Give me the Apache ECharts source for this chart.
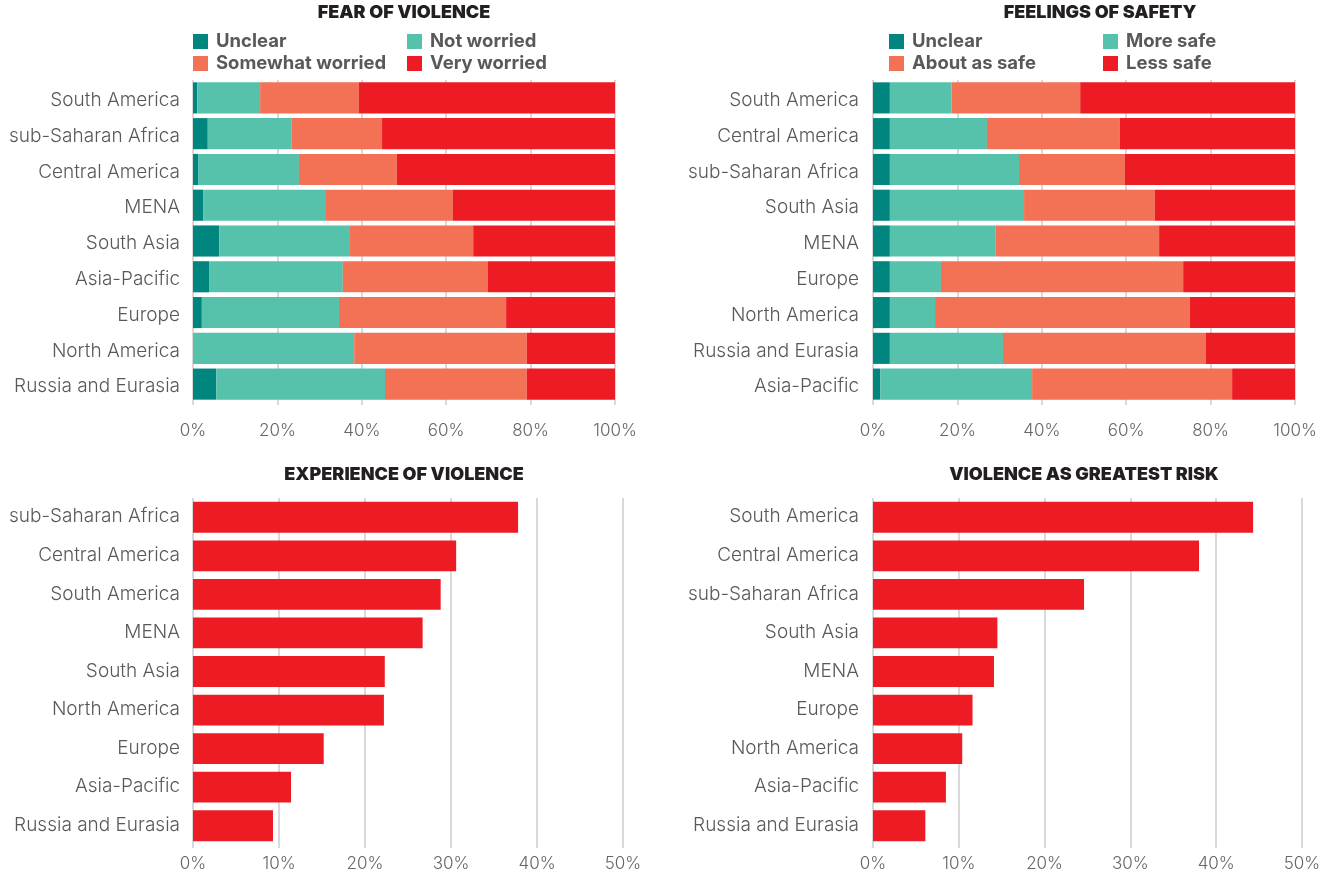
<!DOCTYPE html>
<html>
<head>
<meta charset="utf-8">
<script src="https://cdn.jsdelivr.net/npm/echarts@6/dist/echarts.min.js"></script>
<style>
  html, body { margin: 0; padding: 0; background: #fff; }
  #chart { width: 1320px; height: 877px; }
</style>
</head>
<body>
<div id="chart"></div>
<script>
// fear of violence (% of respondents)
const fearCats = ['South America', 'sub-Saharan Africa', 'Central America', 'MENA', 'South Asia', 'Asia-Pacific', 'Europe', 'North America', 'Russia and Eurasia'];
const fearUnclear = [1.0, 3.5, 1.2, 2.4, 6.2, 3.8, 2.1, 0, 5.5];
const fearNotWorried = [14.9, 19.9, 23.9, 28.9, 30.8, 31.7, 32.5, 38.2, 40.0];
const fearSomewhat = [23.4, 21.4, 23.2, 30.3, 29.4, 34.4, 39.6, 40.9, 33.6];
const fearVery = [60.7, 55.2, 51.7, 38.4, 33.6, 30.1, 25.8, 20.9, 20.9];

// feelings of safety
const safetyCats = ['South America', 'Central America', 'sub-Saharan Africa', 'South Asia', 'MENA', 'Europe', 'North America', 'Russia and Eurasia', 'Asia-Pacific'];
const safetyUnclear = [4.0, 4.0, 4.0, 4.0, 4.0, 4.0, 4.0, 4.0, 1.7];
const safetyMore = [14.6, 23.0, 30.6, 31.8, 25.1, 12.1, 10.7, 26.8, 36.0];
const safetyAbout = [30.5, 31.5, 25.1, 31.0, 38.7, 57.4, 60.4, 48.1, 47.4];
const safetyLess = [50.9, 41.5, 40.3, 33.2, 32.2, 26.5, 24.9, 21.1, 14.9];

// experience of violence
const expCats = ['sub-Saharan Africa', 'Central America', 'South America', 'MENA', 'South Asia', 'North America', 'Europe', 'Asia-Pacific', 'Russia and Eurasia'];
const expValues = [37.8, 30.6, 28.8, 26.7, 22.3, 22.2, 15.2, 11.4, 9.3];

// violence as greatest risk
const riskCats = ['South America', 'Central America', 'sub-Saharan Africa', 'South Asia', 'MENA', 'Europe', 'North America', 'Asia-Pacific', 'Russia and Eurasia'];
const riskValues = [44.3, 38.0, 24.6, 14.5, 14.1, 11.6, 10.4, 8.5, 6.1];

const shareTicks = { min: 0, max: 100, interval: 20 };
const riskTicks = { min: 0, max: 50, interval: 10 };

const C_UNCLEAR = '#00857f';
const C_GOOD = '#56c2ab';
const C_MID = '#f37255';
const C_BAD = '#ed1c24';

const FONT = 'Inter, "Noto Sans", sans-serif';
const GRID_COLOR = '#cdcdcd';

const chart = echarts.init(document.getElementById('chart'));

function makeGrid(left, top, width, height) {
  return { left, top, width, height, containLabel: false, outerBoundsMode: 'none' };
}

function makeXAxis(gridIndex, ticks, labelMargin) {
  return {
    type: 'value',
    gridIndex,
    min: ticks.min,
    max: ticks.max,
    interval: ticks.interval,
    axisLine: { show: false },
    axisTick: { show: true, length: 3, lineStyle: { color: GRID_COLOR, width: 1.5 } },
    axisLabel: {
      color: '#666',
      fontFamily: FONT,
      fontSize: 17,
      fontWeight: 300,
      margin: labelMargin,
      formatter: '{value}%'
    },
    splitLine: { show: true, lineStyle: { color: GRID_COLOR, width: 1.5 } }
  };
}

function makeYAxis(gridIndex, cats, margin, shiftDown) {
  return {
    type: 'category',
    gridIndex,
    data: cats,
    inverse: true,
    axisLine: { show: false },
    axisTick: { show: false },
    axisLabel: {
      color: '#595959',
      fontFamily: FONT,
      fontSize: 19,
      fontWeight: 300,
      margin,
      verticalAlign: 'top',
      lineHeight: 19,
      padding: [shiftDown - 10, 0, 0, 0]
    }
  };
}

function stackSeries(name, data, color, idx, stack, gap) {
  return {
    name,
    type: 'bar',
    stack,
    xAxisIndex: idx,
    yAxisIndex: idx,
    data,
    barCategoryGap: gap,
    itemStyle: { color },
    emphasis: { disabled: true }
  };
}

function legendCol(left, names) {
  return {
    left,
    top: 32,
    orient: 'vertical',
    padding: 0,
    itemGap: 3,
    itemWidth: 15,
    itemHeight: 15,
    icon: 'rect',
    selectedMode: false,
    data: names,
    textStyle: {
      color: '#58595b',
      fontFamily: FONT,
      fontSize: 18.5,
      fontWeight: 'bold',
      lineHeight: 15,
      height: 15,
      padding: [0, 0, 0, 3]
    }
  };
}

function titleAt(text, left, top) {
  return {
    text,
    left,
    top,
    padding: 0,
    textAlign: 'center',
    textStyle: { color: '#231f20', fontFamily: FONT, fontSize: 18, fontWeight: 900 }
  };
}

const option = {
  backgroundColor: '#fff',
  animation: false,
  title: [
    titleAt('FEAR OF VIOLENCE', 404, 4),
    titleAt('FEELINGS OF SAFETY', 1100, 4),
    titleAt('EXPERIENCE OF VIOLENCE', 404, 466),
    titleAt('VIOLENCE AS GREATEST RISK', 1084, 466)
  ],
  legend: [
    legendCol(193, ['Unclear', 'Somewhat worried']),
    legendCol(407, ['Not worried', 'Very worried']),
    legendCol(889, ['Unclear', 'About as safe']),
    legendCol(1103, ['More safe', 'Less safe'])
  ],
  grid: [
    makeGrid(193, 80, 422, 322),
    makeGrid(873, 80, 422, 322),
    makeGrid(193, 498, 430, 347),
    makeGrid(873, 498, 429, 347)
  ],
  xAxis: [
    makeXAxis(0, shareTicks, 20),
    makeXAxis(1, shareTicks, 20),
    makeXAxis(2, riskTicks, 10),
    makeXAxis(3, riskTicks, 10)
  ],
  yAxis: [
    makeYAxis(0, fearCats, 13, 3),
    makeYAxis(1, safetyCats, 14, 3),
    makeYAxis(2, expCats, 13, 0),
    makeYAxis(3, riskCats, 14, 0)
  ],
  series: [
    stackSeries('Unclear', fearUnclear, C_UNCLEAR, 0, 'fear', '13%'),
    stackSeries('Not worried', fearNotWorried, C_GOOD, 0, 'fear', '13%'),
    stackSeries('Somewhat worried', fearSomewhat, C_MID, 0, 'fear', '13%'),
    stackSeries('Very worried', fearVery, C_BAD, 0, 'fear', '13%'),
    stackSeries('Unclear', safetyUnclear, C_UNCLEAR, 1, 'safety', '13%'),
    stackSeries('More safe', safetyMore, C_GOOD, 1, 'safety', '13%'),
    stackSeries('About as safe', safetyAbout, C_MID, 1, 'safety', '13%'),
    stackSeries('Less safe', safetyLess, C_BAD, 1, 'safety', '13%'),
    stackSeries('Experience of violence', expValues, C_BAD, 2, 'exp', '20%'),
    stackSeries('Violence as greatest risk', riskValues, C_BAD, 3, 'risk', '20%')
  ]
};

chart.setOption(option);
window.addEventListener('resize', () => chart.resize());
</script>
</body>
</html>
